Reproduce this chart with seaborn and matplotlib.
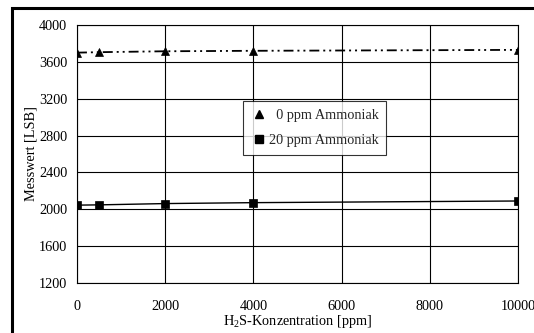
import matplotlib
matplotlib.use("Agg")
import matplotlib.pyplot as plt
import seaborn as sns
import pandas as pd
from matplotlib.patches import Rectangle
from matplotlib.lines import Line2D

sns.set_theme(style="white")
plt.rcParams["font.family"] = ["Liberation Serif", "DejaVu Serif"]
plt.rcParams["mathtext.fontset"] = "custom"
plt.rcParams["mathtext.rm"] = "Liberation Serif"

# H2S concentration steps [ppm]
h2s_ppm = [0, 500, 2000, 4000, 10000]
# sensor readings [LSB]
reading_0ppm_nh3 = [3700, 3705, 3715, 3720, 3730]
reading_20ppm_nh3 = [2045, 2048, 2062, 2072, 2090]
series_labels = ["  0 ppm Ammoniak", "20 ppm Ammoniak"]

df = pd.DataFrame({
    "h2s": h2s_ppm * 2,
    "wert": reading_0ppm_nh3 + reading_20ppm_nh3,
    "serie": [series_labels[0]] * len(h2s_ppm) + [series_labels[1]] * len(h2s_ppm),
})

FS = 10.3

fig = plt.figure(figsize=(5.34, 3.33), dpi=100)
ax = fig.add_axes([77 / 534, 1 - 283 / 333, (518 - 77) / 534, (283 - 25) / 333])

sns.lineplot(data=df[df.serie == series_labels[0]], x="h2s", y="wert", ax=ax,
             color="black", lw=1.3, marker="^", markersize=6.3, markeredgecolor="black",
             markeredgewidth=0.5, dashes=False, legend=False)
ax.lines[-1].set_dashes([5.5, 2.2, 1.1, 2.2, 1.1, 2.2])
sns.lineplot(data=df[df.serie == series_labels[1]], x="h2s", y="wert", ax=ax,
             color="black", lw=1.0, marker="s", markersize=5.6, markeredgecolor="black",
             markeredgewidth=0.5, legend=False)

ax.set_xlim(0, 10000)
ax.set_ylim(1200, 4000)
ax.set_xticks([0, 2000, 4000, 6000, 8000, 10000])
ax.set_yticks(range(1200, 4001, 400))
ax.grid(True, color="black", lw=0.8)
ax.set_axisbelow(True)
for s in ax.spines.values():
    s.set_color("black")
    s.set_linewidth(0.8)
ax.tick_params(axis="both", direction="out", length=4, width=0.8, color="black",
               labelsize=FS, labelcolor="black", pad=3)
ax.tick_params(axis="x", pad=8)
ax.set_xlabel(r"H$_2$S-Konzentration [ppm]", fontsize=FS, color="black", labelpad=0)
ax.set_ylabel("Messwert [LSB]", fontsize=FS, color="black", labelpad=1)

handles = [
    Line2D([], [], ls="none", marker="^", color="black", markersize=5.5),
    Line2D([], [], ls="none", marker="s", color="black", markersize=5.2),
]
leg = ax.legend(handles, series_labels, loc="upper left",
                bbox_to_anchor=((243 - 77) / 441, (283 - 101) / 258),
                fontsize=FS, frameon=True, fancybox=False, handlelength=1.2,
                handletextpad=0.05, borderpad=0.55, labelspacing=0.85,
                borderaxespad=0)
leg.get_frame().set_edgecolor("black")
leg.get_frame().set_linewidth(0.8)

# outer frame around the figure
fig.patches.append(Rectangle((12 / 534, -0.2), 1.2, 1 - 8 / 333 + 0.2,
                             transform=fig.transFigure, fill=False,
                             edgecolor="black", lw=2.2, zorder=10))

fig.savefig("out.png", dpi=100)
